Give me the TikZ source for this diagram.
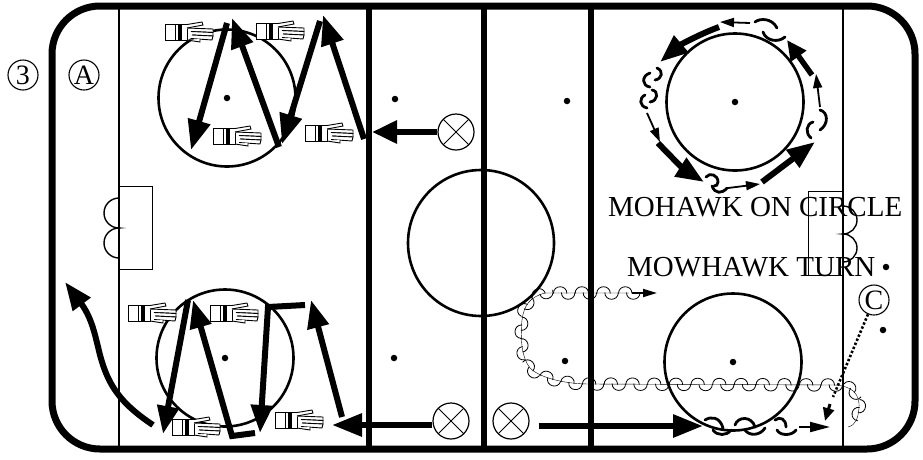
\documentclass[tikz,border=0pt]{standalone}
\usepackage{fontspec}
\setmainfont{Liberation Serif}
\usetikzlibrary{arrows.meta,decorations.markings}
\tikzset{
  x=1pt,y=-1pt,
  rinkline/.style={line width=6pt},
  goalline/.style={line width=2.2pt},
  faceoff/.style={draw,circle,line width=2.6pt,minimum size=137pt,inner sep=0},
  spot/.style={fill,circle,minimum size=6.5pt,inner sep=0},
  xmark/.style={draw,circle,line width=1.2pt,minimum size=36pt,inner sep=0,path picture={
     \draw[line width=.9pt] (path picture bounding box.north west)--(path picture bounding box.south east)
       (path picture bounding box.north east)--(path picture bounding box.south west);}},
  lettered/.style={draw,circle,line width=1.1pt,minimum size=30pt,inner sep=0,font=\fontsize{28}{28}\selectfont},
  bigarrow/.style={line width=6pt,-{Triangle[length=30pt,width=22pt]}},
  midarrow/.style={line width=6pt,-{Triangle[length=28pt,width=21pt]}},
  thinarrow/.style={line width=1.8pt,-{Triangle[length=14pt,width=9pt]}},
  squig/.style={line width=2.8pt,line cap=round},
  chain/.style={postaction={decorate},decoration={markings,mark=between positions 0 and 1 step 21.7pt with {
     \draw[line width=.8pt] (-11pt,-.5pt) .. controls (-11pt,8.5pt) and (2.5pt,8.5pt) .. (2.5pt,-.5pt);
     \draw[line width=.8pt] (-3pt,.5pt) .. controls (-3pt,-8.5pt) and (10.5pt,-8.5pt) .. (10.5pt,.5pt);}}},
  label/.style={font=\fontsize{29}{30}\selectfont,inner sep=0,anchor=base west},
  glove/.pic={
    \begin{scope}[line width=.9pt,fill=white]
      \filldraw (-24,-8) rectangle (-2,8);
      \draw (-14,-8)--(-14,8) (-11,-8)--(-11,8) (-7.5,-8)--(-7.5,8);
      \draw[line width=1.6pt] (-9,-8)--(-9,8);
      \filldraw (-2,-7.5)--(13,-10)--(14,-7)--(-2,-4);
      \filldraw (-2,-4)--(24,-3)--(24,0.5)--(2,-0.5);
      \filldraw (2,-0.5)--(24,0.5)--(24,4)--(3,3);
      \filldraw (3,3)--(24,4)--(23,8)--(2,6.5);
      \filldraw (-2,8)--(11,10)--(11,7);
    \end{scope}}
}
\begin{document}
\begin{tikzpicture}
\useasboundingbox (0,0) rectangle (923,459);
% rink
\draw[line width=7pt,rounded corners=48pt] (52,6) rectangle (915,449);
\draw[goalline] (119,6)--(119,449) (843,6)--(843,449);
\draw[rinkline] (369,6)--(369,449) (484,6)--(484,449) (591,6)--(591,449);
% creases
\draw[line width=.8pt] (119,186) rectangle (152,269);
\draw[line width=1.4pt] (119,198) arc (-90:-270:15) arc (-90:-270:15);
\draw[line width=.8pt] (843,191) rectangle (808,275);
\draw[line width=1.4pt] (843,206) arc (-90:90:14) arc (-90:90:14);
% circles
\node[draw,circle,line width=2.6pt,minimum size=146pt,inner sep=0] (center) at (481,243) {};
\node[faceoff] (ctl) at (227,98) {};
\node[faceoff] (ctr) at (735,102) {};
\node[faceoff] (cbl) at (225,358) {};
\node[faceoff] (cbr) at (733,362) {};
\foreach \n/\p in {a/{227,98},b/{735,102},c/{225,358},d/{733,362},e/{395,99},f/{567,101},g/{394,358},h/{565,361},i/{886,267},j/{883,330}}
  \node[spot] (s\n) at (\p) {};
% players
\node[xmark] (x1) at (456,132) {};
\node[xmark] (x2) at (451,421) {};
\node[xmark] (x3) at (511,421) {};
\node[lettered] (three) at (23,75) {3};
\node[lettered] (la) at (84,75) {A};
\node[lettered] (lc) at (874,300) {C};
% gloves
\foreach \p in {{189,32},{280,31},{237,136},{329,133},{152,313},{234,313},{196,427},{299,420}}
  \pic at (\p) {glove};
% top left drill
\coordinate (t1) at (372,132);
\draw[line width=6pt,-{Triangle[length=25pt,width=22pt]}] (x1.west |- t1)--(t1);
\draw[bigarrow] (364,139)--(323,15);
\draw[bigarrow] (320,21)--(282,144);
\draw[bigarrow] (279,147)--(232,18);
\draw[bigarrow] (227,23)--(191,150);
% bottom left drill
\coordinate (b1) at (332,425);
\draw[bigarrow] (x2.west |- b1)--(b1);
\draw[midarrow] (342,417)--(311,300);
\draw[midarrow] (305,305)--(268,307)--(260,433);
\draw[midarrow] (255,433)--(232,436)--(193,300);
\draw[midarrow] (188,300)--(163,434);
\draw[midarrow] (153,425) .. controls (120,403) and (108,385) .. (100,355)
   .. controls (95,335) and (92,318) .. (65,282);
% bottom right
\coordinate (b2) at (703,426);
\draw[bigarrow] ([xshift=9pt]x3.east |- b2)--(b2);
\draw[squig] (705,420) .. controls (711,416) and (720,417) .. (723,428);
\draw[squig] (713,430) .. controls (717,436) and (727,436) .. (731,430);
\draw[squig] (735,425) .. controls (738,416) and (752,416) .. (755,427);
\draw[squig] (745,430) .. controls (749,436) and (760,436) .. (765,428);
\draw[squig] (775,420) .. controls (780,416) and (786,419) .. (786,427);
\draw[squig] (777,430) .. controls (780,436) and (792,436) .. (796,430);
\draw[line width=2pt,-{Triangle[length=20pt,width=10pt]}] (799,427)--(830,427);
% dotted skater
\coordinate (d1) at (833,397);
\draw[line width=2.6pt,dash pattern=on 2.4pt off 2pt] (lc)--(d1);
\draw[line width=3pt,-{Triangle[length=13pt,width=11pt]}] (830,404)--(825,421);
% chain
\draw[chain] (629,293) -- (545,293) .. controls (530,297) and (524,305) .. (522,320)
  .. controls (520,340) and (522,358) .. (530,368) .. controls (540,378) and (565,384) .. (590,384)
  -- (835,385) .. controls (850,386) and (860,392) .. (859,408) .. controls (858,418) and (856,425) .. (848,427);
\draw[line width=1.8pt,-{Triangle[length=14pt,width=8pt]}] (632,293)--(657,293);
% circle skating
\draw[thinarrow] (750,23)--(720,22);
\draw[midarrow] (719,27) .. controls (700,34) and (680,45) .. (660,62);
\draw[squig] (755,22) .. controls (760,18) and (772,18) .. (777,28);
\draw[squig] (763,32) .. controls (766,41) and (778,43) .. (785,37);
\draw[thinarrow] (820,107)--(816,74);
\draw[line width=5.5pt,-{Triangle[length=20pt,width=18pt]}] (812,75)--(787,40);
\draw[squig] (820,110) .. controls (828,112) and (829,124) .. (820,130);
\draw[squig] (813,122) .. controls (806,124) and (805,133) .. (811,138);
\draw[midarrow] (762,182)--(815,142);
\draw[thinarrow] (728,188)--(760,184);
\draw[squig] (706,177) .. controls (710,172) and (718,175) .. (718,182) .. controls (718,185) and (716,186) .. (714,186);
\draw[squig] (712,186) .. controls (715,194) and (722,194) .. (727,188);
\draw[midarrow] (658,143) .. controls (672,158) and (685,170) .. (704,182);
\draw[thinarrow] (647,113)--(660,142);
\draw[squig] (657,68) .. controls (664,71) and (662,79) .. (655,80);
\draw[squig] (650,73) .. controls (641,76) and (642,86) .. (650,87);
\draw[squig] (652,90) .. controls (659,91) and (658,101) .. (650,102);
\draw[squig] (645,95) .. controls (639,98) and (639,106) .. (647,108);
% labels
\node[label] (m1) at (608,216) {MOHAWK ON CIRCLE};
\node[label] (m2) at (627,276) {MOWHAWK TURN};
\end{tikzpicture}
\end{document}
